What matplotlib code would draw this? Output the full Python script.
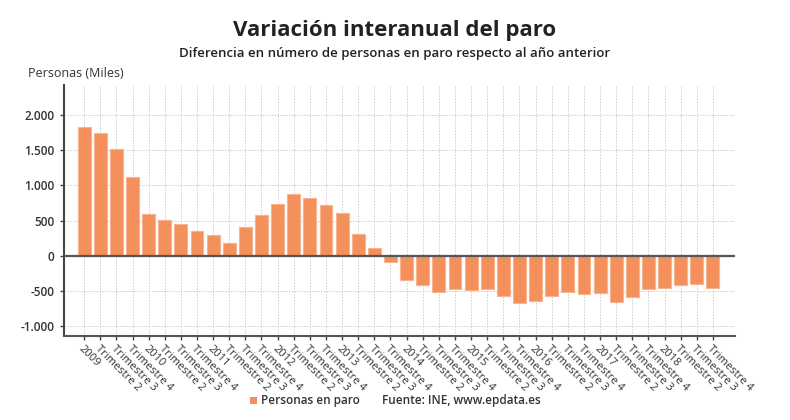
import matplotlib
matplotlib.use("Agg")
import matplotlib.pyplot as plt
from matplotlib.ticker import FuncFormatter, MultipleLocator

# Datos (miles de personas), variación interanual por trimestre 2009-2018
years = [2009, 2010, 2011, 2012, 2013, 2014, 2015, 2016, 2017, 2018]
quarter_names = ["", "Trimestre 2", "Trimestre 3", "Trimestre 4"]
values = [
    1825, 1749, 1517, 1123,
    592, 512, 455, 355,
    294, 180, 408, 578,
    739, 882, 820, 725,
    602, 308, 114, -90,
    -345, -422, -512, -474,
    -483, -469, -573, -678,
    -649, -573, -521, -540,
    -531, -659, -588, -469,
    -455, -422, -398, -460,
]
labels = []
for y in years:
    labels.append(str(y))
    labels.extend(quarter_names[1:])

BAR = "#f4905c"
EDGE = "#f7b48f"
TXT = "#222222"

plt.rcParams["font.family"] = ["Open Sans", "DejaVu Sans"]

fig = plt.figure(figsize=(7.9, 4.2), dpi=100, facecolor="white")
ax = fig.add_axes([0.081, 0.2, 0.849, 0.598])

x = list(range(len(values)))
ax.bar(x, values, width=0.8, color=BAR, edgecolor=EDGE, linewidth=0.8, zorder=3)
ax.axhline(0, color="#555555", lw=1.6, zorder=4)

ax.set_xlim(-1.25, len(values) + 0.35)
ax.set_ylim(-1140, 2430)
ax.yaxis.set_major_locator(MultipleLocator(500))
ax.yaxis.set_major_formatter(FuncFormatter(lambda v, p: f"{v:,.0f}".replace(",", ".")))

ax.set_xticks(x)
ax.set_xticklabels(labels, rotation=-45, ha="left", va="top", rotation_mode="anchor",
                   fontsize=8, color="#333333")
ax.tick_params(axis="x", length=3, width=1, color="#444444", pad=2)
ax.tick_params(axis="y", length=3, width=1, color="#444444", labelsize=8.5, labelcolor="#333333", pad=4)
for t in ax.get_yticklabels():
    t.set_fontweight("semibold")

ax.grid(True, color="#cccccc", linestyle=(0, (1.5, 1.5)), lw=0.7, zorder=0)
for s in ["top", "right"]:
    ax.spines[s].set_visible(False)
ax.spines["left"].set_color("#444444")
ax.spines["left"].set_linewidth(1.5)
ax.spines["bottom"].set_color("#555555")
ax.spines["bottom"].set_linewidth(1.5)

fig.text(0.5, 0.928, "Variación interanual del paro", ha="center", va="center",
         fontsize=16, fontweight="bold", color=TXT)
fig.text(0.5, 0.873, "Diferencia en número de personas en paro respecto al año anterior",
         ha="center", va="center", fontsize=9.5, fontweight="semibold", color=TXT)
fig.text(0.035, 0.826, "Personas (Miles)", ha="left", va="center", fontsize=9, color="#333333")

# leyenda y fuente
fig.patches.append(plt.Rectangle((0.316, 0.037), 0.009, 0.017, transform=fig.transFigure,
                                 facecolor=BAR, edgecolor="none"))
fig.text(0.331, 0.046, "Personas en paro", ha="left", va="center", fontsize=8.5,
         fontweight="semibold", color="#333333")
fig.text(0.483, 0.046, "Fuente: INE, www.epdata.es", ha="left", va="center", fontsize=8.5,
         fontweight="semibold", color="#333333")

fig.savefig("out.png", dpi=100, facecolor="white")
